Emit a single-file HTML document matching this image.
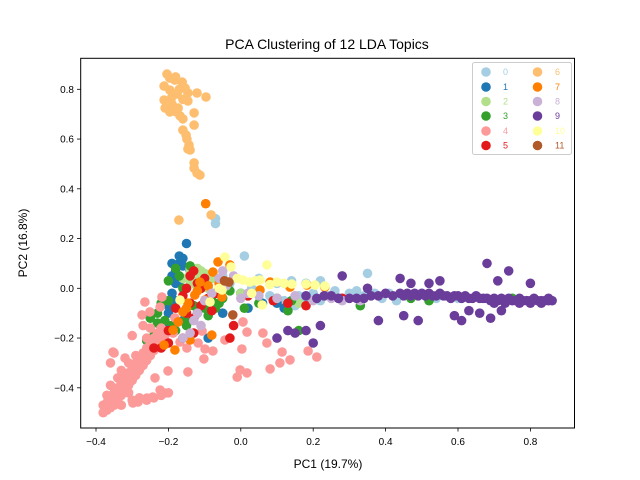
<!DOCTYPE html>
<html><head><meta charset="utf-8"><style>
html,body{margin:0;padding:0;background:#fff}
svg{display:block;font-family:"Liberation Sans","DejaVu Sans",sans-serif}
</style></head><body>
<svg id="chart" width="640" height="480" viewBox="0 0 640 480" xmlns="http://www.w3.org/2000/svg">
<rect width="640" height="480" fill="#fff"/>
<text x="327" y="49" font-size="14" text-anchor="middle">PCA Clustering of 12 LDA Topics</text>
<g id="points"></g>
<rect x="80.7" y="58.3" width="493.8" height="369.7" fill="none" stroke="#000" stroke-width="1"/>
<g id="xticks"></g>
<g id="yticks"></g>
<text x="328" y="468" font-size="12" text-anchor="middle">PC1 (19.7%)</text>
<text x="27" y="243" font-size="12" text-anchor="middle" transform="rotate(-90 27 243)">PC2 (16.8%)</text>
<g id="legend"></g>
</svg>
<script>
const topicNames=["0","1","2","3","4","5","6","7","8","9","10","11"];
const topicColors=["#a6cee3","#1f78b4","#b2df8a","#33a02c","#fb9a99","#e31a1c","#fdbf6f","#ff7f00","#cab2d6","#6a3d9a","#ffff99","#b15928"];
const xTicks=[-0.4,-0.2,0.0,0.2,0.4,0.6,0.8];
const yTicks=[-0.4,-0.2,0.0,0.2,0.4,0.6,0.8];
const topic0=[[-0.07,0.28],[-0.07,0.26],[0.01,0.13],[0.05,0.04],[0.1,0.02],[0.14,0.03],[0.18,0.02],[0.22,0.03],[0.35,0.06],[0.26,-0.01],[0.3,-0.02],[0.32,-0.01],[0.34,-0.03],[0.37,-0.02],[0.39,-0.04],[0.41,-0.02],[0.43,-0.05],[0.28,-0.04],[0.24,-0.03],[0.2,-0.02],[0.16,-0.03],[0.12,-0.05],[0.13,-0.09],[0.15,-0.07],[0.08,-0.03],[0.03,0.0],[-0.03,0.02],[-0.05,0.05],[0.47,-0.03],[0.54,-0.04],[0.6,-0.04],[0.18,-0.04],[0.22,-0.05]];
const topic1=[[-0.15,0.18],[-0.16,0.12],[-0.17,0.1],[-0.18,0.07],[-0.19,0.05],[-0.14,0.07],[-0.13,0.06],[-0.17,0.03],[-0.19,-0.02],[-0.18,-0.05],[-0.2,-0.1],[-0.12,0.04],[-0.08,-0.05],[0.06,-0.06],[0.09,-0.05],[-0.12,-0.08],[-0.05,-0.1],[-0.09,-0.2],[0.0,-0.02],[-0.16,-0.13],[-0.2,-0.15],[-0.04,0.01],[0.02,-0.08],[0.1,-0.06],[0.12,-0.08],[-0.16,0.09],[-0.18,0.02],[-0.19,0.1],[-0.17,0.13],[-0.2,-0.07]];
const topic2=[[-0.16,0.04],[-0.14,0.06],[-0.12,0.05],[-0.13,0.02],[-0.1,0.03],[-0.08,0.04],[-0.11,0.07],[-0.15,0.0],[-0.06,0.0],[-0.12,-0.01],[-0.09,0.0],[0.0,-0.02],[0.02,-0.03],[0.16,-0.06],[-0.14,0.08],[-0.1,0.06],[-0.13,0.04],[-0.11,0.02],[-0.14,0.03],[-0.12,0.08]];
const topic3=[[-0.2,0.03],[-0.17,0.05],[-0.18,0.08],[-0.16,0.0],[-0.2,-0.05],[-0.22,-0.06],[-0.23,-0.1],[-0.25,-0.12],[-0.21,-0.13],[-0.15,-0.12],[-0.12,-0.1],[-0.1,-0.08],[-0.08,-0.05],[-0.05,-0.04],[-0.07,-0.08],[-0.09,-0.11],[0.01,-0.08],[0.05,-0.06],[0.14,-0.05],[0.16,-0.17],[0.13,-0.09],[0.27,-0.04],[0.33,-0.07],[0.47,-0.04],[0.52,-0.05],[0.75,-0.04],[-0.15,-0.15],[-0.18,-0.17],[-0.26,-0.21],[-0.23,-0.14],[-0.19,-0.15],[-0.03,-0.01],[-0.14,0.09],[0.1,-0.04],[-0.22,-0.2],[-0.24,-0.19],[-0.13,-0.07],[-0.06,-0.06]];
const topic4=[[-0.38,-0.5],[-0.37,-0.49],[-0.36,-0.48],[-0.37,-0.46],[-0.35,-0.47],[-0.36,-0.44],[-0.34,-0.45],[-0.35,-0.42],[-0.33,-0.43],[-0.34,-0.4],[-0.32,-0.41],[-0.33,-0.38],[-0.31,-0.39],[-0.32,-0.36],[-0.3,-0.37],[-0.31,-0.34],[-0.29,-0.35],[-0.3,-0.32],[-0.28,-0.33],[-0.29,-0.3],[-0.27,-0.31],[-0.28,-0.28],[-0.26,-0.29],[-0.27,-0.26],[-0.25,-0.27],[-0.26,-0.24],[-0.24,-0.25],[-0.25,-0.22],[-0.23,-0.23],[-0.24,-0.2],[-0.22,-0.21],[-0.23,-0.18],[-0.21,-0.19],[-0.22,-0.16],[-0.34,-0.36],[-0.33,-0.33],[-0.31,-0.3],[-0.29,-0.27],[-0.26,-0.2],[-0.35,-0.26],[-0.36,-0.3],[-0.32,-0.28],[-0.27,-0.15],[-0.3,-0.19],[-0.25,-0.16],[-0.37,-0.43],[-0.38,-0.47],[-0.36,-0.39],[-0.3,-0.45],[-0.28,-0.44],[-0.26,-0.45],[-0.24,-0.44],[-0.22,-0.43],[-0.2,-0.42],[-0.33,-0.47],[-0.31,-0.42],[-0.218,-0.035],[-0.265,-0.055],[-0.223,-0.075],[-0.251,-0.095],[-0.273,-0.107],[-0.353,-0.256],[-0.182,-0.119],[0.006,-0.135],[0.017,-0.176],[0.061,-0.18],[0.072,-0.22],[0.003,-0.244],[0.114,-0.256],[0.108,-0.3],[0.136,-0.288],[0.081,-0.324],[-0.002,-0.328],[-0.01,-0.357],[0.017,-0.34],[0.186,-0.252],[0.21,-0.276],[-0.118,-0.22],[-0.099,-0.244],[-0.077,-0.252],[-0.102,-0.284],[-0.149,-0.24],[-0.146,-0.336],[-0.044,-0.208],[-0.107,-0.172],[-0.223,-0.409],[-0.209,-0.421],[-0.284,-0.457],[-0.243,-0.437],[-0.259,-0.441],[-0.298,-0.461],[-0.201,-0.332],[-0.237,-0.36],[-0.187,-0.18],[-0.168,-0.216]];
const topic5=[[-0.15,0.0],[-0.14,0.05],[-0.12,0.02],[-0.1,0.04],[-0.16,-0.03],[-0.18,-0.08],[-0.15,-0.1],[-0.13,-0.12],[-0.11,-0.07],[-0.09,-0.04],[-0.07,-0.02],[-0.13,-0.18],[-0.16,-0.2],[-0.2,-0.22],[-0.22,-0.24],[-0.24,-0.24],[-0.02,-0.15],[-0.03,-0.2],[0.09,-0.05],[0.13,-0.06],[0.18,-0.07],[0.28,-0.04],[-0.05,0.03],[-0.2,-0.17],[-0.11,0.0],[-0.08,-0.09],[0.02,-0.03],[-0.13,0.07],[-0.14,-0.06]];
const topic6=[[-0.204,0.861],[-0.196,0.845],[-0.182,0.837],[-0.162,0.829],[-0.154,0.805],[-0.212,0.813],[-0.196,0.797],[-0.176,0.781],[-0.146,0.785],[-0.121,0.785],[-0.096,0.769],[-0.146,0.753],[-0.212,0.757],[-0.19,0.741],[-0.173,0.725],[-0.209,0.725],[-0.196,0.709],[-0.168,0.693],[-0.16,0.681],[-0.129,0.705],[-0.129,0.656],[-0.16,0.636],[-0.151,0.616],[-0.149,0.6],[-0.143,0.576],[-0.146,0.56],[-0.14,0.556],[-0.129,0.504],[-0.129,0.483],[-0.121,0.463],[-0.113,0.455],[-0.171,0.274],[-0.082,0.295],[-0.18,0.85],[-0.17,0.8],[-0.19,0.77],[-0.16,0.76],[-0.18,0.71]];
const topic7=[[-0.097,0.34],[-0.063,0.106],[-0.077,0.065],[-0.113,0.025],[-0.127,-0.027],[-0.146,-0.059],[-0.16,-0.095],[-0.173,-0.135],[-0.187,-0.168],[-0.212,-0.228],[-0.03,0.094],[-0.052,-0.035],[-0.099,-0.047],[0.081,0.025],[0.136,0.005],[0.183,0.013],[0.232,0.005],[0.053,-0.007],[-0.14,-0.208],[-0.182,-0.248],[-0.08,-0.188],[-0.09,0.01],[-0.06,0.02],[-0.12,-0.01],[-0.15,-0.08]];
const topic8=[[-0.1,-0.05],[-0.08,-0.02],[-0.06,0.04],[-0.05,0.07],[-0.04,0.01],[-0.12,-0.1],[-0.13,-0.13],[-0.14,-0.18],[-0.16,-0.2],[0.02,-0.02],[0.05,-0.03],[0.1,-0.04],[0.15,-0.03],[0.2,-0.05],[0.25,-0.04],[0.28,-0.05],[0.33,-0.05],[-0.02,0.05],[0.0,-0.04],[-0.11,-0.15]];
const topic9=[[0.36,-0.03],[0.38,-0.03],[0.4,-0.02],[0.42,-0.03],[0.44,-0.02],[0.45,-0.03],[0.46,-0.02],[0.47,-0.03],[0.48,-0.02],[0.49,-0.03],[0.5,-0.02],[0.51,-0.03],[0.52,-0.02],[0.53,-0.03],[0.54,-0.03],[0.55,-0.02],[0.56,-0.03],[0.57,-0.03],[0.58,-0.04],[0.59,-0.03],[0.6,-0.03],[0.61,-0.04],[0.62,-0.03],[0.63,-0.04],[0.64,-0.04],[0.65,-0.03],[0.66,-0.04],[0.67,-0.04],[0.68,-0.04],[0.69,-0.05],[0.7,-0.04],[0.71,-0.05],[0.72,-0.04],[0.73,-0.05],[0.74,-0.04],[0.75,-0.05],[0.76,-0.05],[0.77,-0.04],[0.78,-0.05],[0.79,-0.05],[0.8,-0.05],[0.81,-0.04],[0.82,-0.05],[0.83,-0.05],[0.84,-0.05],[0.85,-0.05],[0.86,-0.05],[0.85,-0.04],[0.83,-0.06],[0.8,-0.06],[0.77,-0.06],[0.73,-0.06],[0.7,-0.06],[0.28,0.05],[0.35,0.0],[0.44,0.04],[0.47,0.02],[0.52,0.02],[0.55,0.03],[0.68,0.1],[0.74,0.07],[0.71,0.03],[0.8,0.02],[0.38,-0.13],[0.45,-0.11],[0.49,-0.13],[0.59,-0.11],[0.61,-0.13],[0.63,-0.09],[0.66,-0.1],[0.69,-0.12],[0.72,-0.09],[0.13,-0.17],[0.15,-0.18],[0.18,-0.17],[0.22,-0.15],[0.2,-0.22],[0.1,-0.2],[0.25,-0.03],[0.3,-0.04],[0.18,-0.03],[0.21,-0.04],[0.23,-0.03],[0.27,-0.04],[0.32,-0.04],[0.34,-0.04]];
const topic10=[[-0.044,0.126],[-0.027,0.086],[0.072,0.094],[0.006,0.033],[0.025,0.025],[0.053,0.033],[0.1,0.025],[0.141,0.017],[0.18,0.017],[0.205,0.013],[0.232,0.009],[-0.052,-0.007],[-0.085,-0.055],[-0.168,-0.047],[0.059,-0.067],[-0.01,0.04],[0.04,0.03],[0.12,0.02],[0.08,0.015],[-0.06,0.0],[0.03,-0.02]];
const topic11=[[-0.033,0.025],[-0.045,0.03],[-0.022,-0.107]];
const topics=[topic0,topic1,topic2,topic3,topic4,topic5,topic6,topic7,topic8,topic9,topic10,topic11];

const NS="http://www.w3.org/2000/svg";
const X0=240.8, XS=362, Y0=288.3, YS=248.75;
function xScale(v){return X0+v*XS;}
function yScale(v){return Y0-v*YS;}
function mk(tag,attrs,parent){const e=document.createElementNS(NS,tag);for(const k in attrs)e.setAttribute(k,attrs[k]);parent.appendChild(e);return e;}

const pg=document.getElementById('points');
topics.forEach((pts,ti)=>{
  const g=mk('g',{},pg);
  
  
  pts.forEach(p=>{
    const c=mk('circle',{cx:xScale(p[0]).toFixed(1),cy:yScale(p[1]).toFixed(1),r:4.8,fill:topicColors[ti]},g);
    
    
  });
});

const xg=document.getElementById('xticks');
xTicks.forEach(t=>{
  const x=xScale(t);
  const l=mk('line',{x1:x,x2:x,y1:428,y2:431.5,stroke:'#000','stroke-width':0.8},xg);
  
  
  const tx=mk('text',{x:x,y:445,'font-size':10,'text-anchor':'middle'},xg);
  
  
  tx.textContent=(t<0?'\u2212':'')+Math.abs(t).toFixed(1);
});
const yg=document.getElementById('yticks');
yTicks.forEach(t=>{
  const y=yScale(t);
  const l=mk('line',{x1:77,x2:80.7,y1:y,y2:y,stroke:'#000','stroke-width':0.8},yg);
  
  
  const tx=mk('text',{x:74,y:y+3.6,'font-size':10,'text-anchor':'end'},yg);
  
  
  tx.textContent=(t<0?'\u2212':'')+Math.abs(t).toFixed(1);
});

const lg=document.getElementById('legend');
const box=mk('rect',{x:472.5,y:62.5,width:99,height:92,rx:2,fill:'#fff','fill-opacity':0.8,stroke:'#ccc','stroke-width':1},lg);


const rowsY=[72,87,101.5,116,131,145.5];
topicNames.forEach((n,i)=>{
  const col=i<6?0:1, row=i%6;
  const mx=col?537.5:486, lx=col?555:503;
  const g=mk('g',{},lg);
  
  
  mk('circle',{cx:mx,cy:rowsY[row],r:4.8,fill:topicColors[i]},g);
  const t=mk('text',{x:lx,y:rowsY[row]+3,'font-size':9,fill:topicColors[i]},g);
  t.textContent=n;
});
</script>
</body></html>
